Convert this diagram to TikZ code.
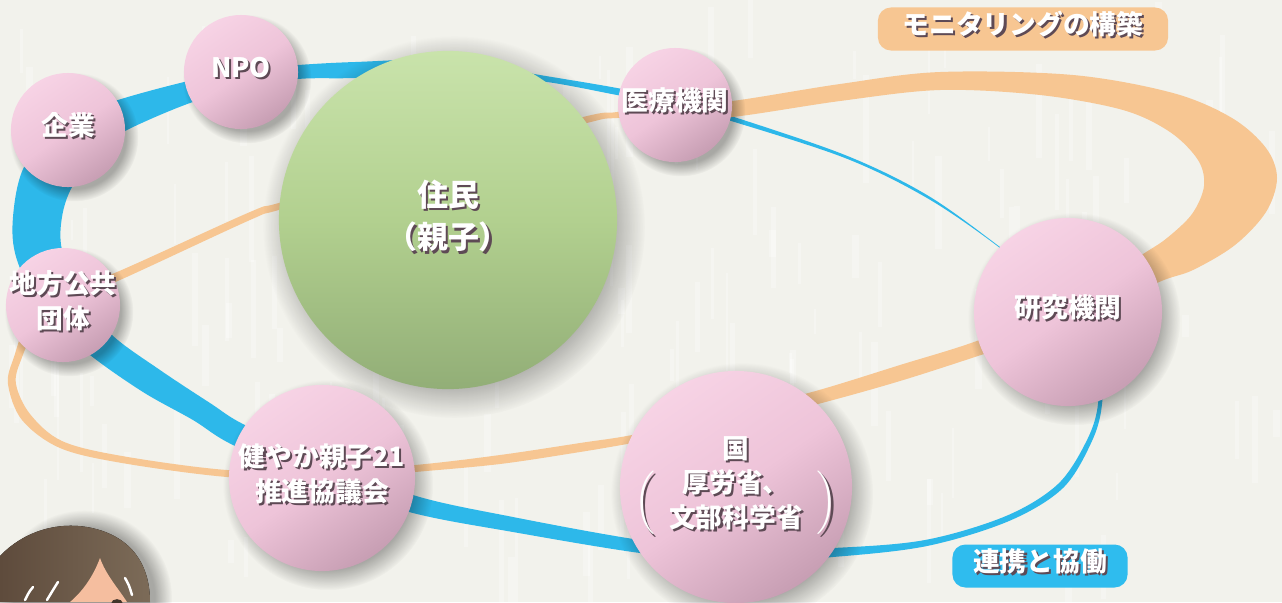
\documentclass[tikz,border=0pt]{standalone}
\usepackage{fontspec}
\newfontfamily\jpfont{Noto Sans CJK JP}
\usetikzlibrary{fadings}

\definecolor{paper}{HTML}{F2F2EC}
\definecolor{ringblue}{HTML}{2DB8EA}
\definecolor{ringorange}{HTML}{F7C692}
\definecolor{tagblue}{HTML}{2FBCEE}
\definecolor{pinklight}{HTML}{F7D3E5}
\definecolor{pinkmid}{HTML}{EEC4D9}
\definecolor{pinkdark}{HTML}{C79EB3}
\definecolor{greenlight}{HTML}{C9E3AB}
\definecolor{greenmid}{HTML}{B2D08F}
\definecolor{greendark}{HTML}{92AE77}
\definecolor{txtshadow}{HTML}{5E4A55}
\definecolor{hairdark}{HTML}{5E4B3C}
\definecolor{hairlight}{HTML}{7C6B58}
\definecolor{skin}{HTML}{F5BE9F}

\pgfdeclarelayer{rings}
\pgfdeclarelayer{shade}
\pgfsetlayers{rings,shade,main}

% white lettering with a small dark drop shadow
\newcommand\shadowed[1]{%
  \makebox[0pt][l]{\hspace{0.6pt}\raisebox{-0.6pt}{\color{txtshadow}\begin{tabular}{@{}c@{}}#1\end{tabular}}}%
  \begin{tabular}{@{}c@{}}#1\end{tabular}}

\begin{document}
\begin{tikzpicture}[
    x=0.01cm, y=-0.01cm,
    ballfont/.style={
        text=white,
        font=\jpfont\bfseries\fontsize{7.6}{9.8}\selectfont
    },
    ball/.style={
        circle,
        minimum size=#1,
        inner sep=0pt,
        top color=pinklight,
        bottom color=pinkdark,
        middle color=pinkmid,
        shading angle=35
    },
    bigball/.style={
        ball=#1,
        top color=greenlight,
        bottom color=greendark,
        middle color=greenmid
    },
    softshadow/.style={
        fill=black,
        opacity=0.3,
        path fading=circle with fuzzy edge 20 percent
    },
    tag/.style={
        rounded corners=3.7pt,
        minimum width=#1,
        minimum height=0.43cm,
        inner sep=0pt,
        text=white,
        font=\jpfont\bfseries\fontsize{7.6}{9.8}\selectfont
    }
]

\useasboundingbox (0,0) rectangle (1282,602);

\begin{pgfonlayer}{rings}
\fill[paper] (0,0) rectangle (1282,602);
% faint streaks in the paper
\pgfmathsetseed{41}
\foreach \i in {1,...,160} {
  \pgfmathsetmacro\sx{random(0,1282)}
  \pgfmathsetmacro\sy{random(0,560)}
  \pgfmathsetmacro\sw{random(2,7)}
  \pgfmathsetmacro\sh{random(20,110)}
  \fill[white, opacity=0.3] (\sx,\sy) rectangle ++(\sw,\sh);
}

% blue ring: collaboration
\fill[ringblue, even odd rule]
  plot[smooth cycle, tension=0.55] coordinates {
    (298,65) (355,62) (450,60) (540,75) (617,88) (680,101) (728,115)
    (845,155) (927,195) (1000,247) (1065,298) (1100,360) (1102,404)
    (1092,441) (1063,488) (1009,521) (927,546) (833,557) (736,562)
    (640,553) (513,532) (413,513) (322,483) (233,445) (193,420)
    (143,392) (90,355) (45,315) (17,260) (13,217) (25,165) (65,120)
    (118,100) (184,82) (240,70)}
  plot[smooth cycle, tension=0.55] coordinates {
    (298,79) (355,78) (450,74) (540,81) (617,95) (680,107) (728,120)
    (845,158) (927,198) (1000,248) (1061,300) (1096,360) (1098,404)
    (1087,440) (1058,484) (1006,516) (925,540) (833,548) (736,550)
    (640,540) (513,517) (413,495) (322,458) (245,425) (210,403)
    (160,370) (112,335) (80,295) (62,250) (62,217) (72,187) (98,150)
    (127,130) (190,103) (245,88)};

% orange ring: monitoring
\fill[ringorange, even odd rule]
  plot[smooth cycle, tension=0.55] coordinates {
    (617,112) (675,104) (732,101) (840,84) (940,72) (1073,75)
    (1173,93) (1232,118) (1266,148) (1277,178) (1266,212) (1235,245)
    (1193,270) (1157,283) (1080,322) (984,354) (900,381) (818,404)
    (725,427) (633,443) (580,452) (500,464) (415,472) (322,480)
    (227,477) (122,463) (60,448) (22,420) (8,384) (14,357) (30,318)
    (70,288) (117,272) (250,212) (282,202) (430,158) (583,117)}
  plot[smooth cycle, tension=0.55] coordinates {
    (617,118) (675,118) (732,117) (840,101) (940,90) (1040,95)
    (1123,110) (1170,132) (1198,160) (1204,186) (1192,214) (1167,238)
    (1143,254) (1070,300) (982,339) (900,365) (812,392) (725,413)
    (637,434) (580,443) (500,455) (415,465) (322,471) (227,470)
    (122,456) (62,441) (30,414) (16,384) (21,360) (38,326) (76,297)
    (120,280) (250,220) (282,209) (430,166) (583,124)};
\end{pgfonlayer}

% members
\node[ball=1.14cm, label={[ballfont]center:\shadowed{企業}}] (kigyo) at (68,130) {};
\node[ball=1.14cm, label={[ballfont]center:\shadowed{NPO}}] (npo) at (241,72) {};
\node[ball=1.14cm, label={[ballfont]center:\shadowed{医療機関}}] (iryo) at (675,105) {};
\node[ball=1.14cm, label={[ballfont]center:\shadowed{地方公共\\団体}}] (chiho) at (63,305) {};
\node[ball=1.86cm, label={[ballfont]center:\shadowed{健やか親子21\\推進協議会}}] (sukoyaka) at (322,478) {};
\node[ball=2.32cm, label={[ballfont]center:\shadowed{国\\$\left(\hspace{4pt}\vcenter{\hbox{\begin{tabular}{@{}c@{}}厚労省、\\文部科学省\end{tabular}}}\hspace{4pt}\right)$}}] (kuni) at (736,487) {};
\node[ball=1.88cm, label={[ballfont]center:\shadowed{研究機関}}] (kenkyu) at (1068,312) {};
\node[bigball=3.38cm, label={[ballfont, font=\jpfont\bfseries\fontsize{8.8}{12.2}\selectfont]center:\shadowed{住民\\（親子）}}] (jumin) at (448,220) {};

% soft shadows under the balls
\begin{pgfonlayer}{shade}
\foreach \n/\r in {kigyo/57, npo/57, iryo/57, chiho/57, sukoyaka/93,
                   kuni/116, kenkyu/94, jumin/169} {
  \fill[softshadow] ([shift={(6,7)}]\n.center) circle ({\r*1.13});
}
\end{pgfonlayer}

% captions
\node[tag=2.9cm, fill=ringorange] (monitor) at (1023,29) {\shadowed{モニタリングの構築}};
\node[tag=1.75cm, fill=tagblue] (renkei) at (1040,566) {\shadowed{連携と協働}};

% girl peeking in at the corner
\begin{pgfonlayer}{shade}
\fill[softshadow] (84,598) circle (88);
\end{pgfonlayer}
\fill[left color=hairdark, right color=hairlight]
  (0,556) .. controls (25,530) and (60,521) .. (92,528)
  .. controls (132,537) and (150,565) .. (150,602) -- (0,602) -- cycle;
\fill[skin] (100,558) .. controls (93,577) and (82,592) .. (70,602)
  -- (127,602) .. controls (118,588) and (106,575) .. (100,558) -- cycle;
\fill[hairdark!70!black] (117,603) ellipse [x radius=1.6pt, y radius=1.1pt];
\draw[white, line width=0.7pt, line cap=round]
  (33,587) .. controls (29,592) .. (25,600)
  (58,582) .. controls (53,590) .. (47,600)
  (125,578) .. controls (129,585) .. (132,595);

\end{tikzpicture}
\end{document}
